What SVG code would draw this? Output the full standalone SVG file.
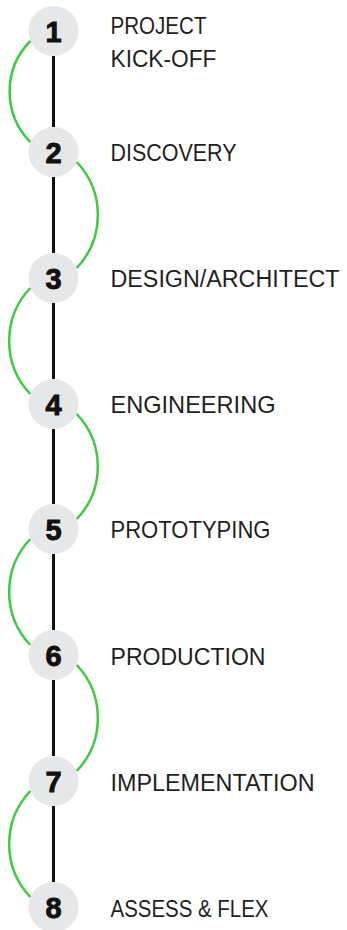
<svg xmlns="http://www.w3.org/2000/svg" width="347" height="930" viewBox="0 0 347 930">
<style>
.bg{fill:#ffffff}
.node circle{fill:#e6e7e9}
.num{font-family:"Liberation Sans",Arial,sans-serif;font-weight:700;font-size:29px;fill:#111111;stroke:#111111;stroke-width:0.9;text-anchor:middle}
.lbl{font-family:"Liberation Sans",Arial,sans-serif;font-size:24px;fill:#1f1f1f}
.spine{stroke:#111111;stroke-width:3;fill:none}
.arc{stroke:#3fca3f;stroke-width:2.5;fill:none}
</style>
<rect class="bg" x="0" y="0" width="347" height="930"/>
<g id="connectors">
<line class="spine" x1="53.5" y1="56" x2="53.5" y2="127"/>
<line class="spine" x1="53.5" y1="177" x2="53.5" y2="253"/>
<line class="spine" x1="53.5" y1="303" x2="53.5" y2="379"/>
<line class="spine" x1="53.5" y1="429" x2="53.5" y2="504"/>
<line class="spine" x1="53.5" y1="554" x2="53.5" y2="630"/>
<line class="spine" x1="53.5" y1="680" x2="53.5" y2="756"/>
<line class="spine" x1="53.5" y1="806" x2="53.5" y2="882"/>
<path class="arc" d="M30.3,41 A72,72 0 0 0 30.3,142"/>
<path class="arc" d="M76.7,162 A77,77 0 0 1 76.7,268"/>
<path class="arc" d="M30.3,288 A77,77 0 0 0 30.3,394"/>
<path class="arc" d="M76.7,414 A76,76 0 0 1 76.7,519"/>
<path class="arc" d="M30.3,539 A77,77 0 0 0 30.3,645"/>
<path class="arc" d="M76.7,665 A77,77 0 0 1 76.7,771"/>
<path class="arc" d="M30.3,791 A77,77 0 0 0 30.3,897"/>
</g>
<g id="node1" class="node">
<circle cx="53.5" cy="31" r="25"/>
<text class="num" x="53.5" y="41.5">1</text>
<text class="lbl" x="110.5" y="34.3" textLength="96" lengthAdjust="spacingAndGlyphs">PROJECT</text>
<text class="lbl" x="110.5" y="66.7" textLength="106" lengthAdjust="spacingAndGlyphs">KICK-OFF</text>
</g>
<g id="node2" class="node">
<circle cx="53.5" cy="152" r="25"/>
<text class="num" x="53.5" y="162.5">2</text>
<text class="lbl" x="110.5" y="161" textLength="126" lengthAdjust="spacingAndGlyphs">DISCOVERY</text>
</g>
<g id="node3" class="node">
<circle cx="53.5" cy="278" r="25"/>
<text class="num" x="53.5" y="288.5">3</text>
<text class="lbl" x="110.5" y="287.3" style="font-size:23px" textLength="229" lengthAdjust="spacingAndGlyphs">DESIGN/ARCHITECT</text>
</g>
<g id="node4" class="node">
<circle cx="53.5" cy="404" r="25"/>
<text class="num" x="53.5" y="414.5">4</text>
<text class="lbl" x="110.5" y="413.3" textLength="165" lengthAdjust="spacingAndGlyphs">ENGINEERING</text>
</g>
<g id="node5" class="node">
<circle cx="53.5" cy="529" r="25"/>
<text class="num" x="53.5" y="539.5">5</text>
<text class="lbl" x="110.5" y="538.3" textLength="160" lengthAdjust="spacingAndGlyphs">PROTOTYPING</text>
</g>
<g id="node6" class="node">
<circle cx="53.5" cy="655" r="25"/>
<text class="num" x="53.5" y="665.5">6</text>
<text class="lbl" x="110.5" y="664.7" textLength="155" lengthAdjust="spacingAndGlyphs">PRODUCTION</text>
</g>
<g id="node7" class="node">
<circle cx="53.5" cy="781" r="25"/>
<text class="num" x="53.5" y="791.5">7</text>
<text class="lbl" x="110.5" y="791.3" textLength="204" lengthAdjust="spacingAndGlyphs">IMPLEMENTATION</text>
</g>
<g id="node8" class="node">
<circle cx="53.5" cy="907" r="25"/>
<text class="num" x="53.5" y="917.5">8</text>
<text class="lbl" x="110.5" y="916.7" textLength="158" lengthAdjust="spacingAndGlyphs">ASSESS &amp; FLEX</text>
</g>
</svg>
